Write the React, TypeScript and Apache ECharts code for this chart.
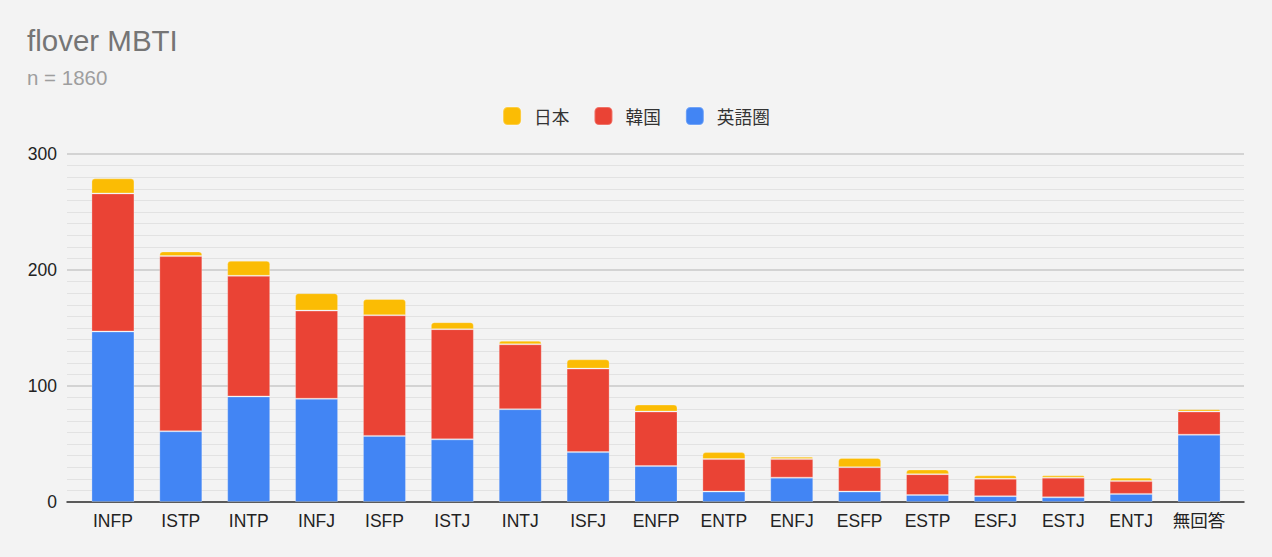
import React, { useEffect, useRef } from "react";
import * as echarts from "echarts";

const categories = ["INFP", "ISTP", "INTP", "INFJ", "ISFP", "ISTJ", "INTJ", "ISFJ", "ENFP", "ENTP", "ENFJ", "ESFP", "ESTP", "ESFJ", "ESTJ", "ENTJ", "無回答"];
const english = [147, 61, 91, 89, 57, 54, 80, 43, 31, 9, 21, 9, 6, 5, 4, 7, 58];
const korea = [119, 151, 104, 76, 104, 95, 56, 72, 47, 28, 16, 21, 18, 15, 17, 11, 20];
const japan = [13, 4, 13, 15, 14, 6, 3, 8, 6, 6, 2, 8, 4, 3, 2, 3, 2];
const yTicks = [0, 100, 200, 300];

const FONT = "'Liberation Sans', Arial, 'Noto Sans CJK JP', sans-serif";

export default function App() {
  const ref = useRef<HTMLDivElement>(null);
  useEffect(() => {
    if (!ref.current) return;
    const chart = echarts.init(ref.current, undefined, { renderer: "svg" });
    const segBorder = { borderColor: "rgba(255,255,255,0.25)", borderWidth: 1 };
    const yMin = yTicks[0];
    const yMax = yTicks[yTicks.length - 1];
    chart.setOption({
      animation: false,
      backgroundColor: "#f3f3f3",
      textStyle: { fontFamily: FONT },
      title: {
        text: "flover MBTI",
        subtext: "n = 1860",
        left: 27,
        top: 26,
        padding: 0,
        itemGap: 12,
        textStyle: { fontSize: 29.5, fontWeight: "normal", color: "#757575", fontFamily: FONT },
        subtextStyle: { fontSize: 20.5, color: "#9e9e9e", fontFamily: FONT },
      },
      legend: {
        data: ["日本", "韓国", "英語圏"],
        top: 101,
        left: "center",
        itemWidth: 18,
        itemHeight: 18,
        itemGap: 24,
        icon: "roundRect",
        textStyle: { fontSize: 17.7, color: "#333", fontFamily: "'Noto Sans CJK JP', sans-serif", padding: [0, 0, 0, 8] },
      },
      grid: [
        { left: 67, right: 28, top: 154, bottom: 55, containLabel: false },
        { left: 79, right: 39, top: 154, bottom: 55, containLabel: false },
      ],
      xAxis: [
        {
          type: "value",
          gridIndex: 0,
          min: 0,
          max: 1,
          axisLabel: { show: false },
          axisTick: { show: false },
          splitLine: { show: false },
          axisLine: { show: true, onZero: false, lineStyle: { color: "#333", width: 1.5 } },
        },
        {
          type: "category",
          gridIndex: 1,
          data: categories,
          axisTick: { show: false },
          axisLine: { show: false },
          axisLabel: { fontSize: 17.5, color: "#222", margin: 10, fontFamily: FONT, interval: 0 },
        },
      ],
      yAxis: [
        {
          type: "value",
          gridIndex: 0,
          min: yMin,
          max: yMax,
          interval: 100,
          axisLine: { show: false },
          axisTick: { show: false },
          axisLabel: { fontSize: 17.5, color: "#222", margin: 10, fontFamily: FONT },
          splitLine: { lineStyle: { color: "#c8c8c8", width: 1.5 } },
          minorTick: { show: false, splitNumber: 10 },
          minorSplitLine: { show: true, lineStyle: { color: "#e2e2e2", width: 1 } },
        },
        {
          type: "value",
          gridIndex: 1,
          min: yMin,
          max: yMax,
          interval: 100,
          show: false,
          splitLine: { show: false },
        },
      ],
      series: [
        {
          name: "英語圏",
          type: "bar",
          stack: "total",
          xAxisIndex: 1,
          yAxisIndex: 1,
          data: english,
          barWidth: 43,
          itemStyle: { color: "#4285f4", ...segBorder },
        },
        {
          name: "韓国",
          type: "bar",
          stack: "total",
          xAxisIndex: 1,
          yAxisIndex: 1,
          data: korea,
          barWidth: 43,
          itemStyle: { color: "#ea4335", ...segBorder },
        },
        {
          name: "日本",
          type: "bar",
          stack: "total",
          xAxisIndex: 1,
          yAxisIndex: 1,
          data: japan,
          barWidth: 43,
          itemStyle: { color: "#fbbc04", borderRadius: [3, 3, 0, 0], ...segBorder },
        },
      ],
    });
    return () => chart.dispose();
  }, []);
  return (
    <div
      ref={ref}
      style={{ position: "fixed", left: 0, top: 0, width: 1272, height: 557 }}
    />
  );
}
